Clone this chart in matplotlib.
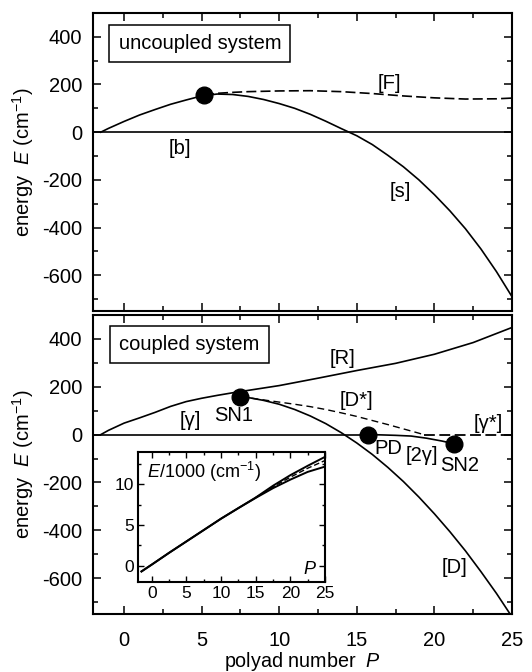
import matplotlib
matplotlib.use('Agg')
import matplotlib.pyplot as plt
from matplotlib.ticker import MultipleLocator

plt.rcParams['font.family'] = ['Liberation Sans', 'DejaVu Sans']
plt.rcParams['mathtext.fontset'] = 'custom'
plt.rcParams['mathtext.rm'] = 'Liberation Sans'
plt.rcParams['mathtext.it'] = 'Liberation Sans:italic'
plt.rcParams['axes.unicode_minus'] = False

# ---- uncoupled system (top) ----
P_b = [-2, 25]
E_b = [0, 0]
P_s = [-1.5, -1, 0, 1, 2, 3, 4, 5, 6, 7, 8, 9, 10, 11, 12, 13, 14, 15, 16, 17, 18, 19, 20, 21, 22, 23, 24, 25]
E_s = [0, 16, 45, 72, 95, 117, 135, 152, 160, 158, 150, 137, 120, 100, 75, 46, 15, -15, -52, -97, -145, -200, -262, -330, -405, -490, -585, -690]
P_F = [5.15, 6, 7, 8, 10, 12, 14, 16, 18, 20, 22, 24, 25]
E_F = [157, 163, 167, 170, 173, 174, 170, 162, 152, 144, 139, 140, 143]
dot_top = ([5.15], [157])

# ---- coupled system (bottom) ----
P_R = [-1.5, -1, 0, 1, 2, 3, 4, 5, 6, 7, 7.5, 8, 10, 12.5, 15, 17.5, 20, 22.5, 25]
E_R = [0, 18, 48, 70, 93, 118, 138, 152, 164, 175, 180, 185, 205, 236, 268, 298, 336, 385, 448]
P_D = [7.5, 8, 9, 10, 11, 12, 13, 14, 15, 16, 17, 18, 19, 20, 21, 22, 23, 24, 25]
E_D = [159, 155, 143, 127, 105, 78, 46, 8, -35, -83, -137, -196, -261, -331, -406, -486, -573, -664, -762]
P_Dstar = [7.5, 9, 11, 12, 13, 14, 15, 16, 17, 18, 19, 19.3]
E_Dstar = [159, 145, 127, 117, 105, 91, 76, 59, 42, 24, 6, 0]
P_zero = [-2, 15.74]
E_zero = [0, 0]
P_gstar = [19.3, 25]
E_gstar = [0, 0]
P_2g = [15.74, 16.5, 17.5, 18.5, 19.5, 20.5, 21.26]
E_2g = [0, -1, -3, -6, -15, -27, -38]
P_pts = [7.5, 15.74, 21.26]
E_pts = [159, 0, -38]

# ---- inset: absolute energies / 1000 ----
P_in = [-1.5, 0, 2.5, 5, 7.5, 10, 12.5, 15, 17.5, 20, 22.5, 25]
E_in_up = [-0.7, 0.15, 1.6, 3.0, 4.4, 5.8, 7.1, 8.4, 9.85, 11.15, 12.3, 13.4]
E_in_lo = [-0.7, 0.15, 1.6, 3.0, 4.4, 5.8, 7.1, 8.35, 9.55, 10.6, 11.55, 12.2]
P_in_d = [15, 17.5, 20, 22.5, 25]
E_in_d = [8.4, 9.7, 10.9, 12.0, 12.95]

fs = 14.5
lw = 1.2


def style_axes(ax, fsize, xlab=True):
    ax.tick_params(which='both', direction='in', top=True, right=True, width=1.1)
    ax.tick_params(which='major', length=6, pad=8, labelsize=fsize)
    ax.tick_params(which='minor', length=3.5)
    ax.tick_params(axis='x', which='major', pad=12)
    if not xlab:
        ax.tick_params(labelbottom=False)
    for sp in ax.spines.values():
        sp.set_linewidth(1.5)


fig = plt.figure(figsize=(5.32, 6.72), dpi=100)
ax1 = fig.add_axes([0.1748, 0.5372, 0.7876, 0.4435])
ax2 = fig.add_axes([0.1748, 0.0863, 0.7876, 0.4449])

for ax in (ax1, ax2):
    ax.set_xlim(-2, 25)
    ax.set_ylim(-750, 500)
    ax.xaxis.set_major_locator(MultipleLocator(5))
    ax.xaxis.set_minor_locator(MultipleLocator(2.5))
    ax.yaxis.set_major_locator(MultipleLocator(200))
    ax.yaxis.set_minor_locator(MultipleLocator(100))
    ax.set_ylabel('energy  $E$ (cm$^{\\mathrm{-1}}$)', fontsize=fs)
    ax.yaxis.set_label_coords(-0.135, 0.5)

style_axes(ax1, fs, xlab=False)
style_axes(ax2, fs)

# top panel
ax1.plot(P_b, E_b, color='black', lw=lw)
ax1.plot(P_s, E_s, color='black', lw=lw)
l, = ax1.plot(P_F, E_F, color='black', lw=lw)
l.set_dashes((6, 2.5))
ax1.plot(*dot_top, 'o', color='black', ms=12)
ax1.text(0.255, 0.899, 'uncoupled system', transform=ax1.transAxes, fontsize=fs,
         ha='center', va='center',
         bbox=dict(boxstyle='square,pad=0.45', fc='white', ec='black', lw=1.1))
ax1.text(17.1, 204, '[F]', fontsize=fs, ha='center', va='center')
ax1.text(3.6, -67, '[b]', fontsize=fs, ha='center', va='center')
ax1.text(17.8, -250, '[s]', fontsize=fs, ha='center', va='center')

# bottom panel
ax2.plot(P_zero, E_zero, color='black', lw=lw)
ax2.plot(P_R, E_R, color='black', lw=lw)
ax2.plot(P_D, E_D, color='black', lw=lw)
ax2.plot(P_2g, E_2g, color='black', lw=lw)
l, = ax2.plot(P_Dstar, E_Dstar, color='black', lw=1.0)
l.set_dashes((5, 3))
l, = ax2.plot(P_gstar, E_gstar, color='black', lw=1.3)
l.set_dashes((6, 2.5))
ax2.plot(P_pts, E_pts, 'o', color='black', ms=12, ls='none')
ax2.text(0.230, 0.901, 'coupled system', transform=ax2.transAxes, fontsize=fs,
         ha='center', va='center',
         bbox=dict(boxstyle='square,pad=0.45', fc='white', ec='black', lw=1.1))
ax2.text(14.07, 317, '[R]', fontsize=fs, ha='center', va='center')
ax2.text(15.0, 144, '[D*]', fontsize=fs, ha='center', va='center')
ax2.text(4.25, 60, '[γ]', fontsize=fs, ha='center', va='center')
ax2.text(7.04, 79, 'SN1', fontsize=fs, ha='center', va='center')
ax2.text(17.03, -59, 'PD', fontsize=fs, ha='center', va='center')
ax2.text(19.18, -87, '[2γ]', fontsize=fs, ha='center', va='center')
ax2.text(21.65, -129, 'SN2', fontsize=fs, ha='center', va='center')
ax2.text(23.47, 46, '[γ*]', fontsize=fs, ha='center', va='center')
ax2.text(21.3, -557, '[D]', fontsize=fs, ha='center', va='center')
ax2.set_xlabel('polyad number  $P$', fontsize=14.2, labelpad=0)

# inset
axi = fig.add_axes([0.2594, 0.1339, 0.3515, 0.1935])
axi.set_xlim(-2, 25)
axi.set_ylim(-2, 14)
axi.xaxis.set_major_locator(MultipleLocator(5))
axi.xaxis.set_minor_locator(MultipleLocator(2.5))
axi.yaxis.set_major_locator(MultipleLocator(5))
axi.yaxis.set_minor_locator(MultipleLocator(2.5))
axi.tick_params(which='both', direction='in', top=True, right=True, width=1.0)
axi.tick_params(which='major', length=4, pad=3, labelsize=12.5)
axi.tick_params(which='minor', length=2.5)
for sp in axi.spines.values():
    sp.set_linewidth(1.5)
axi.plot(P_in, E_in_up, color='black', lw=1.4)
axi.plot(P_in, E_in_lo, color='black', lw=1.4)
l, = axi.plot(P_in_d, E_in_d, color='black', lw=1.0)
l.set_dashes((4, 2))
axi.text(0.05, 0.846, '$E$/1000 (cm$^{\\mathrm{-1}}$)', transform=axi.transAxes,
         fontsize=13, ha='left', va='center')
axi.text(0.92, 0.1, '$P$', transform=axi.transAxes, fontsize=13, ha='center', va='center')

fig.savefig('out.png', dpi=100)
